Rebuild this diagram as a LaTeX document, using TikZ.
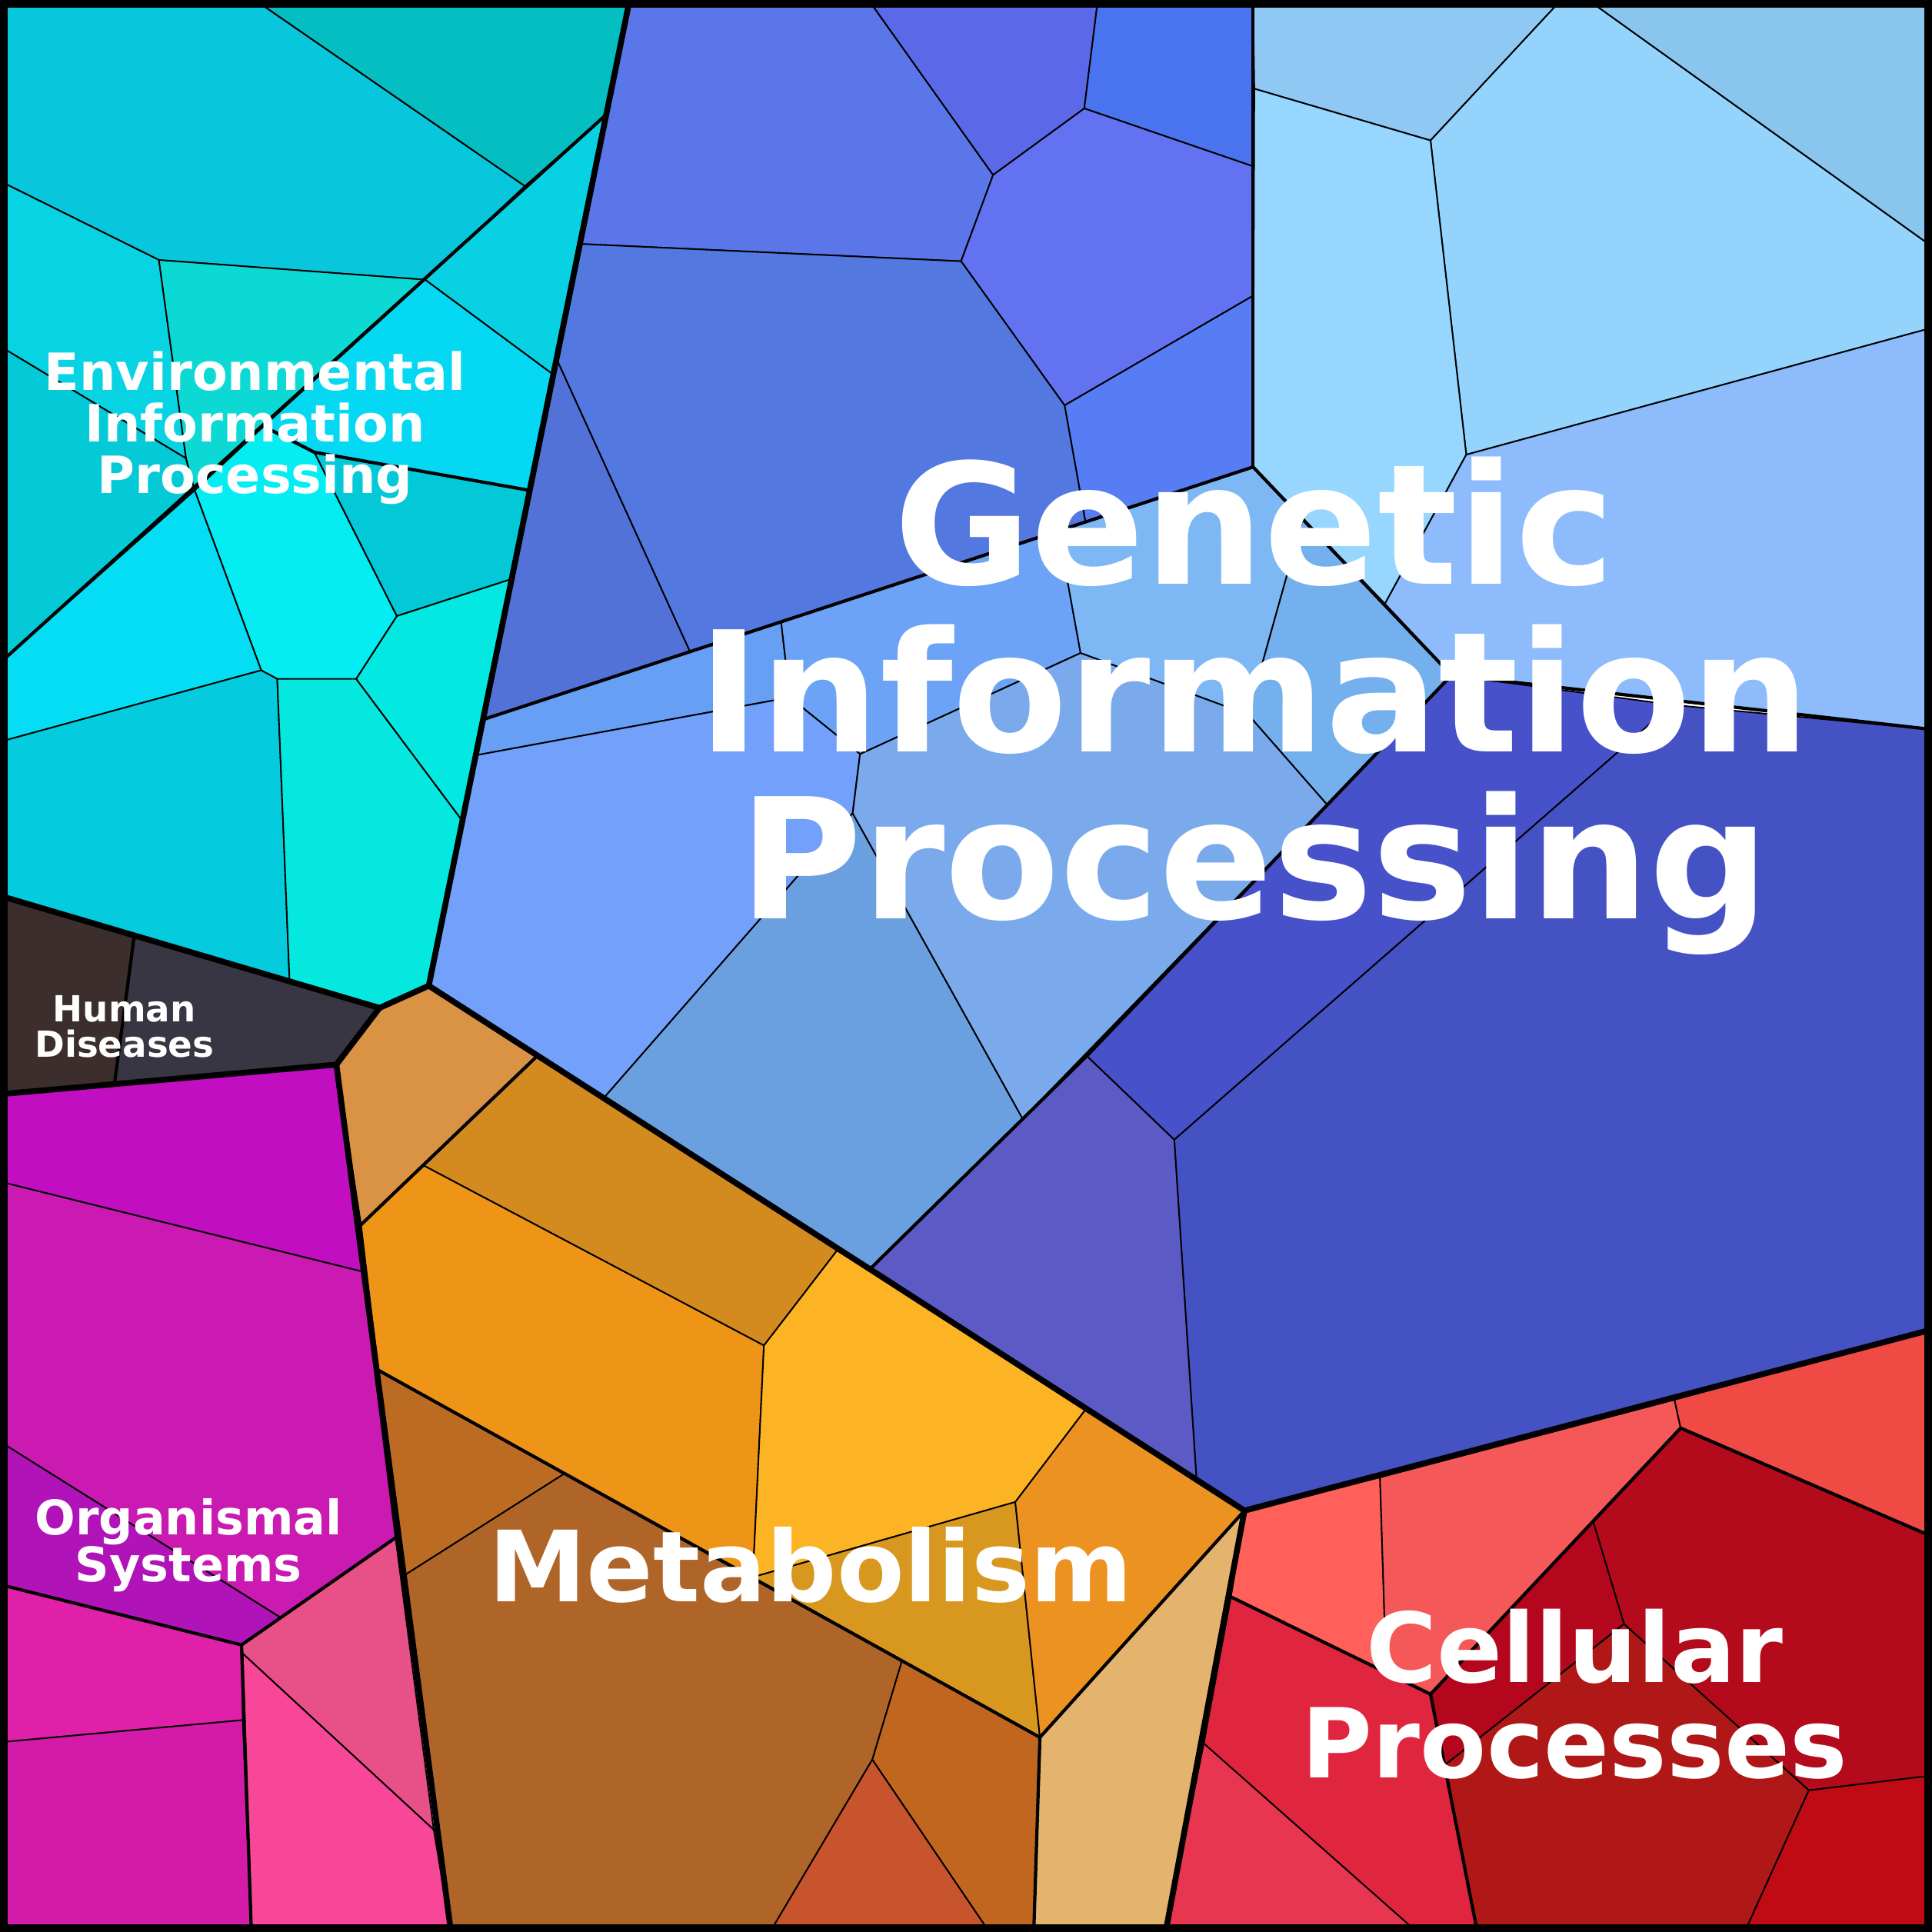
\documentclass[tikz,border=0pt]{standalone}
\usepackage{fontspec}
\setsansfont{DejaVu Sans}

%Cell colours
\definecolor{envA}{HTML}{08C6DC}
\definecolor{envB}{HTML}{04BEC1}
\definecolor{envK}{HTML}{07D3E2}
\definecolor{envL}{HTML}{04CAD8}
\definecolor{envM}{HTML}{0DD9D4}
\definecolor{envC}{HTML}{08D1E4}
\definecolor{envD}{HTML}{05D8F2}
\definecolor{envE}{HTML}{03C8D8}
\definecolor{envF}{HTML}{03E8E0}
\definecolor{envG}{HTML}{04EDF2}
\definecolor{envH}{HTML}{04DDF4}
\definecolor{envI}{HTML}{04CCDE}
\definecolor{envJ}{HTML}{04E8E0}
\definecolor{hdA}{HTML}{3D2E2E}
\definecolor{hdB}{HTML}{373642}
\definecolor{orgA}{HTML}{C00EC0}
\definecolor{orgB}{HTML}{CA1AB2}
\definecolor{orgC}{HTML}{B014B8}
\definecolor{orgD}{HTML}{E020A8}
\definecolor{orgE}{HTML}{D41AA8}
\definecolor{orgF}{HTML}{E85088}
\definecolor{orgG}{HTML}{F84698}
\definecolor{metA}{HTML}{DA9244}
\definecolor{metB}{HTML}{D38A1E}
\definecolor{metC}{HTML}{EE9416}
\definecolor{metD}{HTML}{FCB424}
\definecolor{metE}{HTML}{D89820}
\definecolor{metF}{HTML}{EC9220}
\definecolor{metG}{HTML}{E4B46E}
\definecolor{metH}{HTML}{BC6C22}
\definecolor{metI}{HTML}{AF6428}
\definecolor{metJ}{HTML}{C8542E}
\definecolor{metK}{HTML}{C0661E}
\definecolor{genA}{HTML}{5B76E8}
\definecolor{genB}{HTML}{5B68E8}
\definecolor{genC}{HTML}{4A73EF}
\definecolor{genD}{HTML}{6372F0}
\definecolor{genE}{HTML}{577DF5}
\definecolor{genF}{HTML}{5378E0}
\definecolor{genG}{HTML}{5272D8}
\definecolor{lgtA}{HTML}{8FC8F2}
\definecolor{lgtB}{HTML}{93D3FC}
\definecolor{lgtC}{HTML}{8AC5EE}
\definecolor{lgtD}{HTML}{97D6FE}
\definecolor{lgtE}{HTML}{8DBBFC}
\definecolor{midA}{HTML}{679FF5}
\definecolor{midB}{HTML}{6CA3F7}
\definecolor{midC}{HTML}{7DB8F5}
\definecolor{midD}{HTML}{74B0EE}
\definecolor{midE}{HTML}{72A0FA}
\definecolor{midF}{HTML}{6AA0E0}
\definecolor{midG}{HTML}{7AAAEC}
\definecolor{dkA}{HTML}{4651CA}
\definecolor{dkB}{HTML}{4552C4}
\definecolor{dkC}{HTML}{5C5BC6}
\definecolor{celA}{HTML}{FF605A}
\definecolor{celB}{HTML}{F45858}
\definecolor{celC}{HTML}{F04A44}
\definecolor{celD}{HTML}{E0263F}
\definecolor{celE}{HTML}{E83650}
\definecolor{celF}{HTML}{B30A1C}
\definecolor{celG}{HTML}{B4061C}
\definecolor{celH}{HTML}{B01818}
\definecolor{celI}{HTML}{C00A14}

\begin{document}
\begin{tikzpicture}[x=0.1mm, y=-0.1mm,
  cell/.style={draw=black, line width=0.34pt, line join=round},
  group/.style={draw=black, line width=0.75pt, line join=round, line cap=round},
  toplevel/.style={draw=black, line width=1.35pt, line join=round, line cap=round},
  label/.style={text=white, align=center, inner sep=0pt}]

\useasboundingbox (0,0) rectangle (1568,1568);

%Draw Environmental cells
\filldraw[cell, fill=envA] (0,0) -- (207,0) -- (426,151) -- (345,227) -- (129,211) -- (0,147) -- cycle;
\filldraw[cell, fill=envB] (207,0) -- (511,0) -- (492,93) -- (426,151) -- cycle;
\filldraw[cell, fill=envK] (0,147) -- (129,211) -- (151,372) -- (0,281) -- cycle;
\filldraw[cell, fill=envL] (0,281) -- (151,372) -- (158,398) -- (0,538) -- cycle;
\filldraw[cell, fill=envM] (129,211) -- (345,227) -- (158,398) -- (151,372) -- cycle;
\filldraw[cell, fill=envC] (492,93) -- (449,304) -- (345,227) -- cycle;
\filldraw[cell, fill=envD] (345,227) -- (449,304) -- (430,398) -- (255,367) -- (214,346) -- cycle;
\filldraw[cell, fill=envE] (430,398) -- (255,367) -- (322,500) -- (415,470) -- cycle;
\filldraw[cell, fill=envF] (415,470) -- (322,500) -- (289,551) -- (375,666) -- cycle;
\filldraw[cell, fill=envG] (214,346) -- (255,367) -- (322,500) -- (289,551) -- (225,551) -- (212,544) -- (158,398) -- cycle;
\filldraw[cell, fill=envH] (0,538) -- (158,398) -- (212,544) -- (0,602) -- cycle;
\filldraw[cell, fill=envI] (0,602) -- (212,544) -- (225,551) -- (235,796) -- (0,727) -- cycle;
\filldraw[cell, fill=envJ] (225,551) -- (289,551) -- (375,666) -- (348,800) -- (308,818) -- (235,796) -- cycle;

%Draw Human Diseases cells
\filldraw[cell, fill=hdA] (0,727) -- (109,759) -- (93,879) -- (0,888) -- cycle;
\filldraw[cell, fill=hdB] (109,759) -- (308,818) -- (273,864) -- (93,879) -- cycle;

%Draw Organismal cells
\filldraw[cell, fill=orgA] (0,888) -- (273,864) -- (294,1032) -- (0,959) -- cycle;
\filldraw[cell, fill=orgB] (0,959) -- (294,1032) -- (321,1248) -- (228,1313) -- (0,1170) -- cycle;
\filldraw[cell, fill=orgC] (0,1170) -- (228,1313) -- (196,1335) -- (0,1286) -- cycle;
\filldraw[cell, fill=orgD] (0,1286) -- (196,1335) -- (197,1396) -- (0,1414) -- cycle;
\filldraw[cell, fill=orgE] (0,1414) -- (197,1396) -- (204,1568) -- (0,1568) -- cycle;
\filldraw[cell, fill=orgF] (196,1335) -- (321,1248) -- (352,1485) -- (197,1342) -- cycle;
\filldraw[cell, fill=orgG] (197,1342) -- (352,1485) -- (366,1568) -- (204,1568) -- cycle;

%Draw Metabolism cells
\filldraw[cell, fill=metA] (308,818) -- (348,800) -- (436,857) -- (293,994) -- (273,864) -- cycle;
\filldraw[cell, fill=metB] (436,857) -- (680,1014) -- (620,1092) -- (344,946) -- cycle;
\filldraw[cell, fill=metC] (293,994) -- (344,946) -- (620,1092) -- (611,1280) -- (307,1112) -- cycle;
\filldraw[cell, fill=metD] (680,1014) -- (881,1144) -- (824,1219) -- (611,1280) -- (620,1092) -- cycle;
\filldraw[cell, fill=metE] (611,1280) -- (824,1219) -- (844,1410) -- cycle;
\filldraw[cell, fill=metF] (881,1144) -- (1010,1226) -- (844,1410) -- (824,1219) -- cycle;
\filldraw[cell, fill=metG] (844,1410) -- (1010,1226) -- (946,1568) -- (839,1568) -- cycle;
\filldraw[cell, fill=metH] (307,1112) -- (458,1196) -- (329,1278) -- cycle;
\filldraw[cell, fill=metI] (458,1196) -- (732,1348) -- (708,1428) -- (625,1568) -- (366,1568) -- (329,1278) -- cycle;
\filldraw[cell, fill=metJ] (708,1428) -- (625,1568) -- (803,1568) -- cycle;
\filldraw[cell, fill=metK] (732,1348) -- (844,1410) -- (839,1568) -- (803,1568) -- (708,1428) -- cycle;

%Draw Genetic cells
\filldraw[cell, fill=genA] (511,0) -- (705,0) -- (806,142) -- (780,212) -- (472,198) -- cycle;
\filldraw[cell, fill=genB] (705,0) -- (891,0) -- (880,88) -- (806,142) -- cycle;
\filldraw[cell, fill=genC] (891,0) -- (1017,0) -- (1017,135) -- (880,88) -- cycle;
\filldraw[cell, fill=genD] (880,88) -- (1017,135) -- (1017,240) -- (864,329) -- (780,212) -- (806,142) -- cycle;
\filldraw[cell, fill=genE] (1017,240) -- (1017,379) -- (881,424) -- (864,329) -- cycle;
\filldraw[cell, fill=genF] (472,198) -- (780,212) -- (864,329) -- (881,424) -- (560,529) -- (452,292) -- cycle;
\filldraw[cell, fill=genG] (452,292) -- (560,529) -- (392,584) -- cycle;

\filldraw[cell, fill=lgtA] (1017,0) -- (1267,0) -- (1161,114) -- (1018,72) -- cycle;
\filldraw[cell, fill=lgtB] (1267,0) -- (1289,0) -- (1568,200) -- (1568,266) -- (1190,369) -- (1161,114) -- cycle;
\filldraw[cell, fill=lgtC] (1289,0) -- (1568,0) -- (1568,200) -- cycle;
\filldraw[cell, fill=lgtD] (1018,72) -- (1161,114) -- (1190,369) -- (1124,490) -- (1017,379) -- cycle;
\filldraw[cell, fill=lgtE] (1190,369) -- (1568,266) -- (1568,592) -- (1178,548) -- (1124,490) -- cycle;

\filldraw[cell, fill=midA] (392,584) -- (634,505) -- (641,566) -- (386,613) -- cycle;
\filldraw[cell, fill=midB] (634,505) -- (859,431) -- (877,530) -- (698,612) -- (641,566) -- cycle;
\filldraw[cell, fill=midC] (859,431) -- (1017,379) -- (1057,422) -- (1026,533) -- (1013,580) -- (877,530) -- cycle;
\filldraw[cell, fill=midD] (1057,422) -- (1178,548) -- (1077,653) -- (1013,580) -- (1026,533) -- cycle;
\filldraw[cell, fill=midE] (386,613) -- (641,566) -- (698,612) -- (692,660) -- (491,890) -- (348,800) -- cycle;
\filldraw[cell, fill=midF] (692,660) -- (830,908) -- (706,1030) -- (491,890) -- cycle;
\filldraw[cell, fill=midG] (698,612) -- (877,530) -- (1013,580) -- (1077,653) -- (830,908) -- (692,660) -- cycle;

\filldraw[cell, fill=dkA] (1178,548) -- (1357,572) -- (953,925) -- (882,857) -- cycle;
\filldraw[cell, fill=dkB] (1357,572) -- (1568,592) -- (1568,1079) -- (1010,1226) -- (971,1200) -- (953,925) -- cycle;
\filldraw[cell, fill=dkC] (882,857) -- (953,925) -- (971,1200) -- (1010,1226) -- (706,1030) -- cycle;

%Draw Cellular cells
\filldraw[cell, fill=celA] (1010,1226) -- (1120,1199) -- (1125,1357) -- (999,1296) -- cycle;
\filldraw[cell, fill=celB] (1120,1199) -- (1359,1136) -- (1364,1159) -- (1161,1375) -- (1125,1357) -- cycle;
\filldraw[cell, fill=celC] (1359,1136) -- (1568,1079) -- (1568,1247) -- (1364,1159) -- cycle;
\filldraw[cell, fill=celD] (999,1296) -- (1125,1357) -- (1161,1375) -- (1199,1568) -- (1150,1568) -- (977,1415) -- cycle;
\filldraw[cell, fill=celE] (977,1415) -- (1150,1568) -- (946,1568) -- cycle;
\filldraw[cell, fill=celF] (1364,1159) -- (1568,1247) -- (1568,1441) -- (1468,1453) -- (1318,1318) -- (1293,1235) -- cycle;
\filldraw[cell, fill=celG] (1364,1159) -- (1293,1235) -- (1318,1318) -- (1172,1433) -- (1161,1375) -- cycle;
\filldraw[cell, fill=celH] (1172,1433) -- (1318,1318) -- (1468,1453) -- (1416,1568) -- (1199,1568) -- cycle;
\filldraw[cell, fill=celI] (1468,1453) -- (1568,1441) -- (1568,1568) -- (1416,1568) -- cycle;

%Draw group borders
\draw[group] (492,93) -- (0,538);
\draw[group] (214,346) -- (255,367) -- (430,398);
\draw[group] (109,759) -- (93,879);
\draw[group] (0,1286) -- (196,1335) -- (321,1248);
\draw[group] (196,1335) -- (204,1568);
\draw[group] (436,857) -- (293,994);
\draw[group] (307,1112) -- (844,1410) -- (1010,1226);
\draw[group] (844,1410) -- (839,1568);
\draw[group] (1017,0) -- (1017,379);
\draw[group] (392,584) -- (1017,379) -- (1178,548) -- (1568,592);
\draw[group] (1178,548) -- (882,857) -- (706,1030);
\draw[group] (999,1296) -- (1161,1375) -- (1364,1159) -- (1568,1247);
\draw[group] (1161,1375) -- (1199,1568);

%Draw top level borders
\draw[toplevel] (511,0) -- (348,800) -- (308,818) -- (0,727);
\draw[toplevel] (308,818) -- (273,864) -- (0,888);
\draw[toplevel] (273,864) -- (366,1568);
\draw[toplevel] (348,800) -- (706,1030) -- (1010,1226) -- (946,1568);
\draw[toplevel] (1010,1226) -- (1568,1079);

%Draw frame
\draw[line width=3.7pt] (0,0) rectangle (1568,1568);

%Draw labels
\node[label, font=\sffamily\bfseries\fontsize{11.85}{11.9}\selectfont] (envlabel) at (207,347) {Environmental\\Information\\Processing};
\node[label, font=\sffamily\bfseries\fontsize{8.3}{8.25}\selectfont] (hdlabel) at (101,833) {Human\\Diseases};
\node[label, font=\sffamily\bfseries\fontsize{11}{10.8}\selectfont] (orglabel) at (153,1254) {Organismal\\Systems};
\node[label, font=\sffamily\bfseries\fontsize{38.7}{38.6}\selectfont] (genlabel) at (1018,573) {Genetic\\Information\\Processing};
\node[label, font=\sffamily\bfseries\fontsize{22.7}{22.6}\selectfont] (metlabel) at (658,1270) {Metabolism};
\node[label, font=\sffamily\bfseries\fontsize{22.3}{21.9}\selectfont] (cellabel) at (1278,1375) {Cellular\\Processes};

\end{tikzpicture}
\end{document}
